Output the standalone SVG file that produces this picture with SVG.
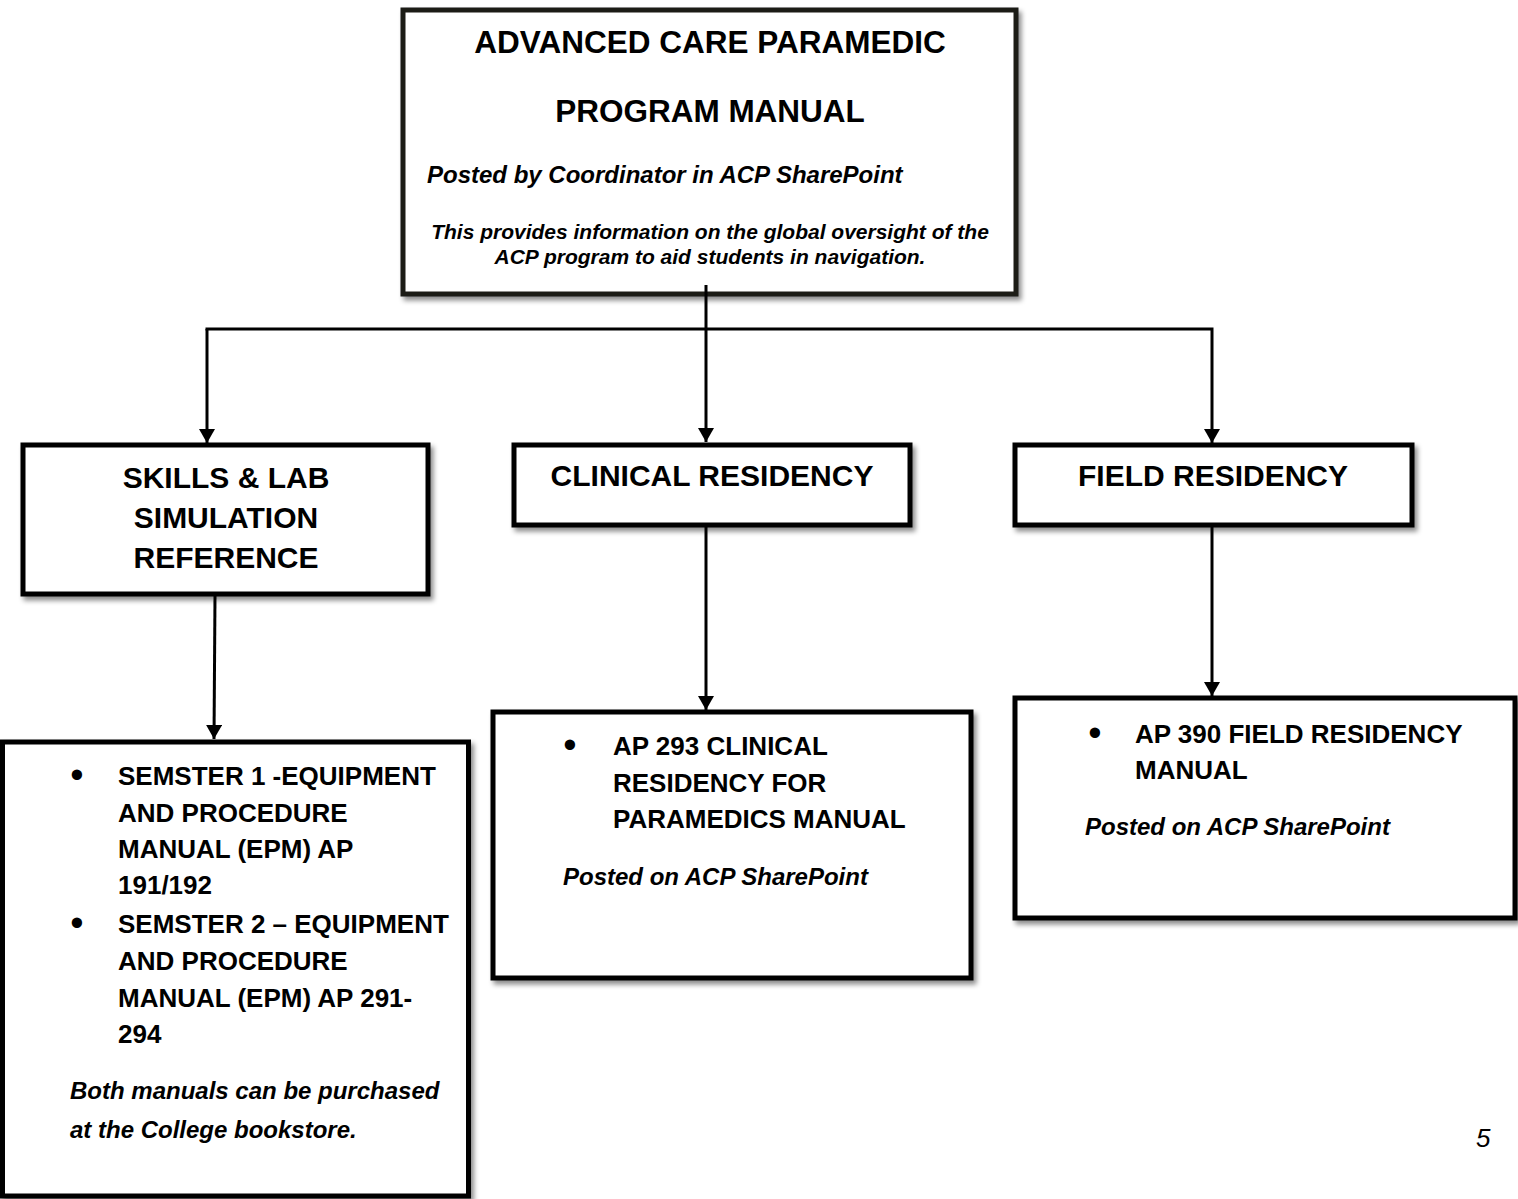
<svg xmlns="http://www.w3.org/2000/svg" width="1518" height="1199" viewBox="0 0 1518 1199">
<style>
.box{fill:#fff;stroke:#000;stroke-width:5;filter:url(#sh)}
.hd{font-family:"Liberation Sans",Arial,sans-serif;font-weight:bold;font-size:30px;fill:#000;text-anchor:middle}
.it{font-family:"Liberation Sans",Arial,sans-serif;font-weight:bold;font-style:italic;fill:#000}
.bl{font-family:"Liberation Sans",Arial,sans-serif;font-weight:bold;font-size:26px;fill:#000}
.bu{font-family:"Liberation Sans",Arial,sans-serif;font-size:38px;fill:#000;text-anchor:middle}
.it2{font-family:"Liberation Sans",Arial,sans-serif;font-weight:bold;font-style:italic;font-size:24px;fill:#000}
.cn{fill:none;stroke:#000;stroke-width:3}
</style>
<defs>
<filter id="sh" x="-10%" y="-10%" width="130%" height="130%">
<feDropShadow dx="3" dy="4" stdDeviation="2.5" flood-color="#000" flood-opacity="0.45"/>
</filter>
<marker id="ah" markerUnits="userSpaceOnUse" markerWidth="14" markerHeight="16" refX="14" refY="8" orient="auto" viewBox="0 0 14 16">
<path d="M0,0 L14,8 L0,16 Z" fill="#000"/>
</marker>
</defs>
<rect width="1518" height="1199" fill="#fff"/>

<g id="top">
<rect class="box" x="403" y="10" width="613" height="284" style="stroke:#1c1a14"/>
<text class="hd" x="710" y="53" style="font-size:31.5px">ADVANCED CARE PARAMEDIC</text>
<text class="hd" x="710" y="122" style="font-size:31.5px">PROGRAM MANUAL</text>
<text class="it" x="427" y="183" font-size="24">Posted by Coordinator in ACP SharePoint</text>
<text class="it" x="710" y="239" font-size="21" text-anchor="middle">This provides information on the global oversight of the</text>
<text class="it" x="710" y="264" font-size="21" text-anchor="middle">ACP program to aid students in navigation.</text>
</g>

<g id="connectors">
<path class="cn" d="M706,285 V442" marker-end="url(#ah)"/>
<path class="cn" d="M205.5,329 H1212 V443" marker-end="url(#ah)"/>
<path class="cn" d="M207,329 V443" marker-end="url(#ah)"/>
<path class="cn" d="M215,596 L214,739" marker-end="url(#ah)"/>
<path class="cn" d="M706,527 V710" marker-end="url(#ah)"/>
<path class="cn" d="M1212,527 V696" marker-end="url(#ah)"/>
</g>

<g id="skills">
<rect class="box" x="23" y="445" width="405" height="149"/>
<text class="hd" x="226" y="488">SKILLS &amp; LAB</text>
<text class="hd" x="226" y="528">SIMULATION</text>
<text class="hd" x="226" y="568">REFERENCE</text>
</g>

<g id="clinical">
<rect class="box" x="514" y="445" width="396" height="80"/>
<text class="hd" x="712" y="486">CLINICAL RESIDENCY</text>
</g>

<g id="field">
<rect class="box" x="1015" y="445" width="397" height="80"/>
<text class="hd" x="1213" y="486">FIELD RESIDENCY</text>
</g>

<g id="semester">
<rect class="box" x="2.5" y="742" width="466" height="454"/>
<text class="bu" x="77" y="788">•</text>
<text class="bl" x="118" y="785">SEMSTER 1 -EQUIPMENT</text>
<text class="bl" x="118" y="822">AND PROCEDURE</text>
<text class="bl" x="118" y="858">MANUAL (EPM) AP</text>
<text class="bl" x="118" y="894">191/192</text>
<text class="bu" x="77" y="936">•</text>
<text class="bl" x="118" y="933">SEMSTER 2 – EQUIPMENT</text>
<text class="bl" x="118" y="970">AND PROCEDURE</text>
<text class="bl" x="118" y="1007">MANUAL (EPM) AP 291-</text>
<text class="bl" x="118" y="1043">294</text>
<text class="it2" x="70" y="1099">Both manuals can be purchased</text>
<text class="it2" x="70" y="1138">at the College bookstore.</text>
</g>

<g id="clinicalmanual">
<rect class="box" x="493" y="712" width="478" height="266"/>
<text class="bu" x="570" y="758">•</text>
<text class="bl" x="613" y="755">AP 293 CLINICAL</text>
<text class="bl" x="613" y="792">RESIDENCY FOR</text>
<text class="bl" x="613" y="828">PARAMEDICS MANUAL</text>
<text class="it2" x="563" y="885">Posted on ACP SharePoint</text>
</g>

<g id="fieldmanual">
<rect class="box" x="1015" y="698" width="500" height="220"/>
<text class="bu" x="1095" y="746">•</text>
<text class="bl" x="1135" y="743">AP 390 FIELD RESIDENCY</text>
<text class="bl" x="1135" y="779">MANUAL</text>
<text class="it2" x="1085" y="835">Posted on ACP SharePoint</text>
</g>

<text x="1476" y="1147" font-family="Liberation Sans, Arial, sans-serif" font-style="italic" font-size="26" fill="#000">5</text>
</svg>
